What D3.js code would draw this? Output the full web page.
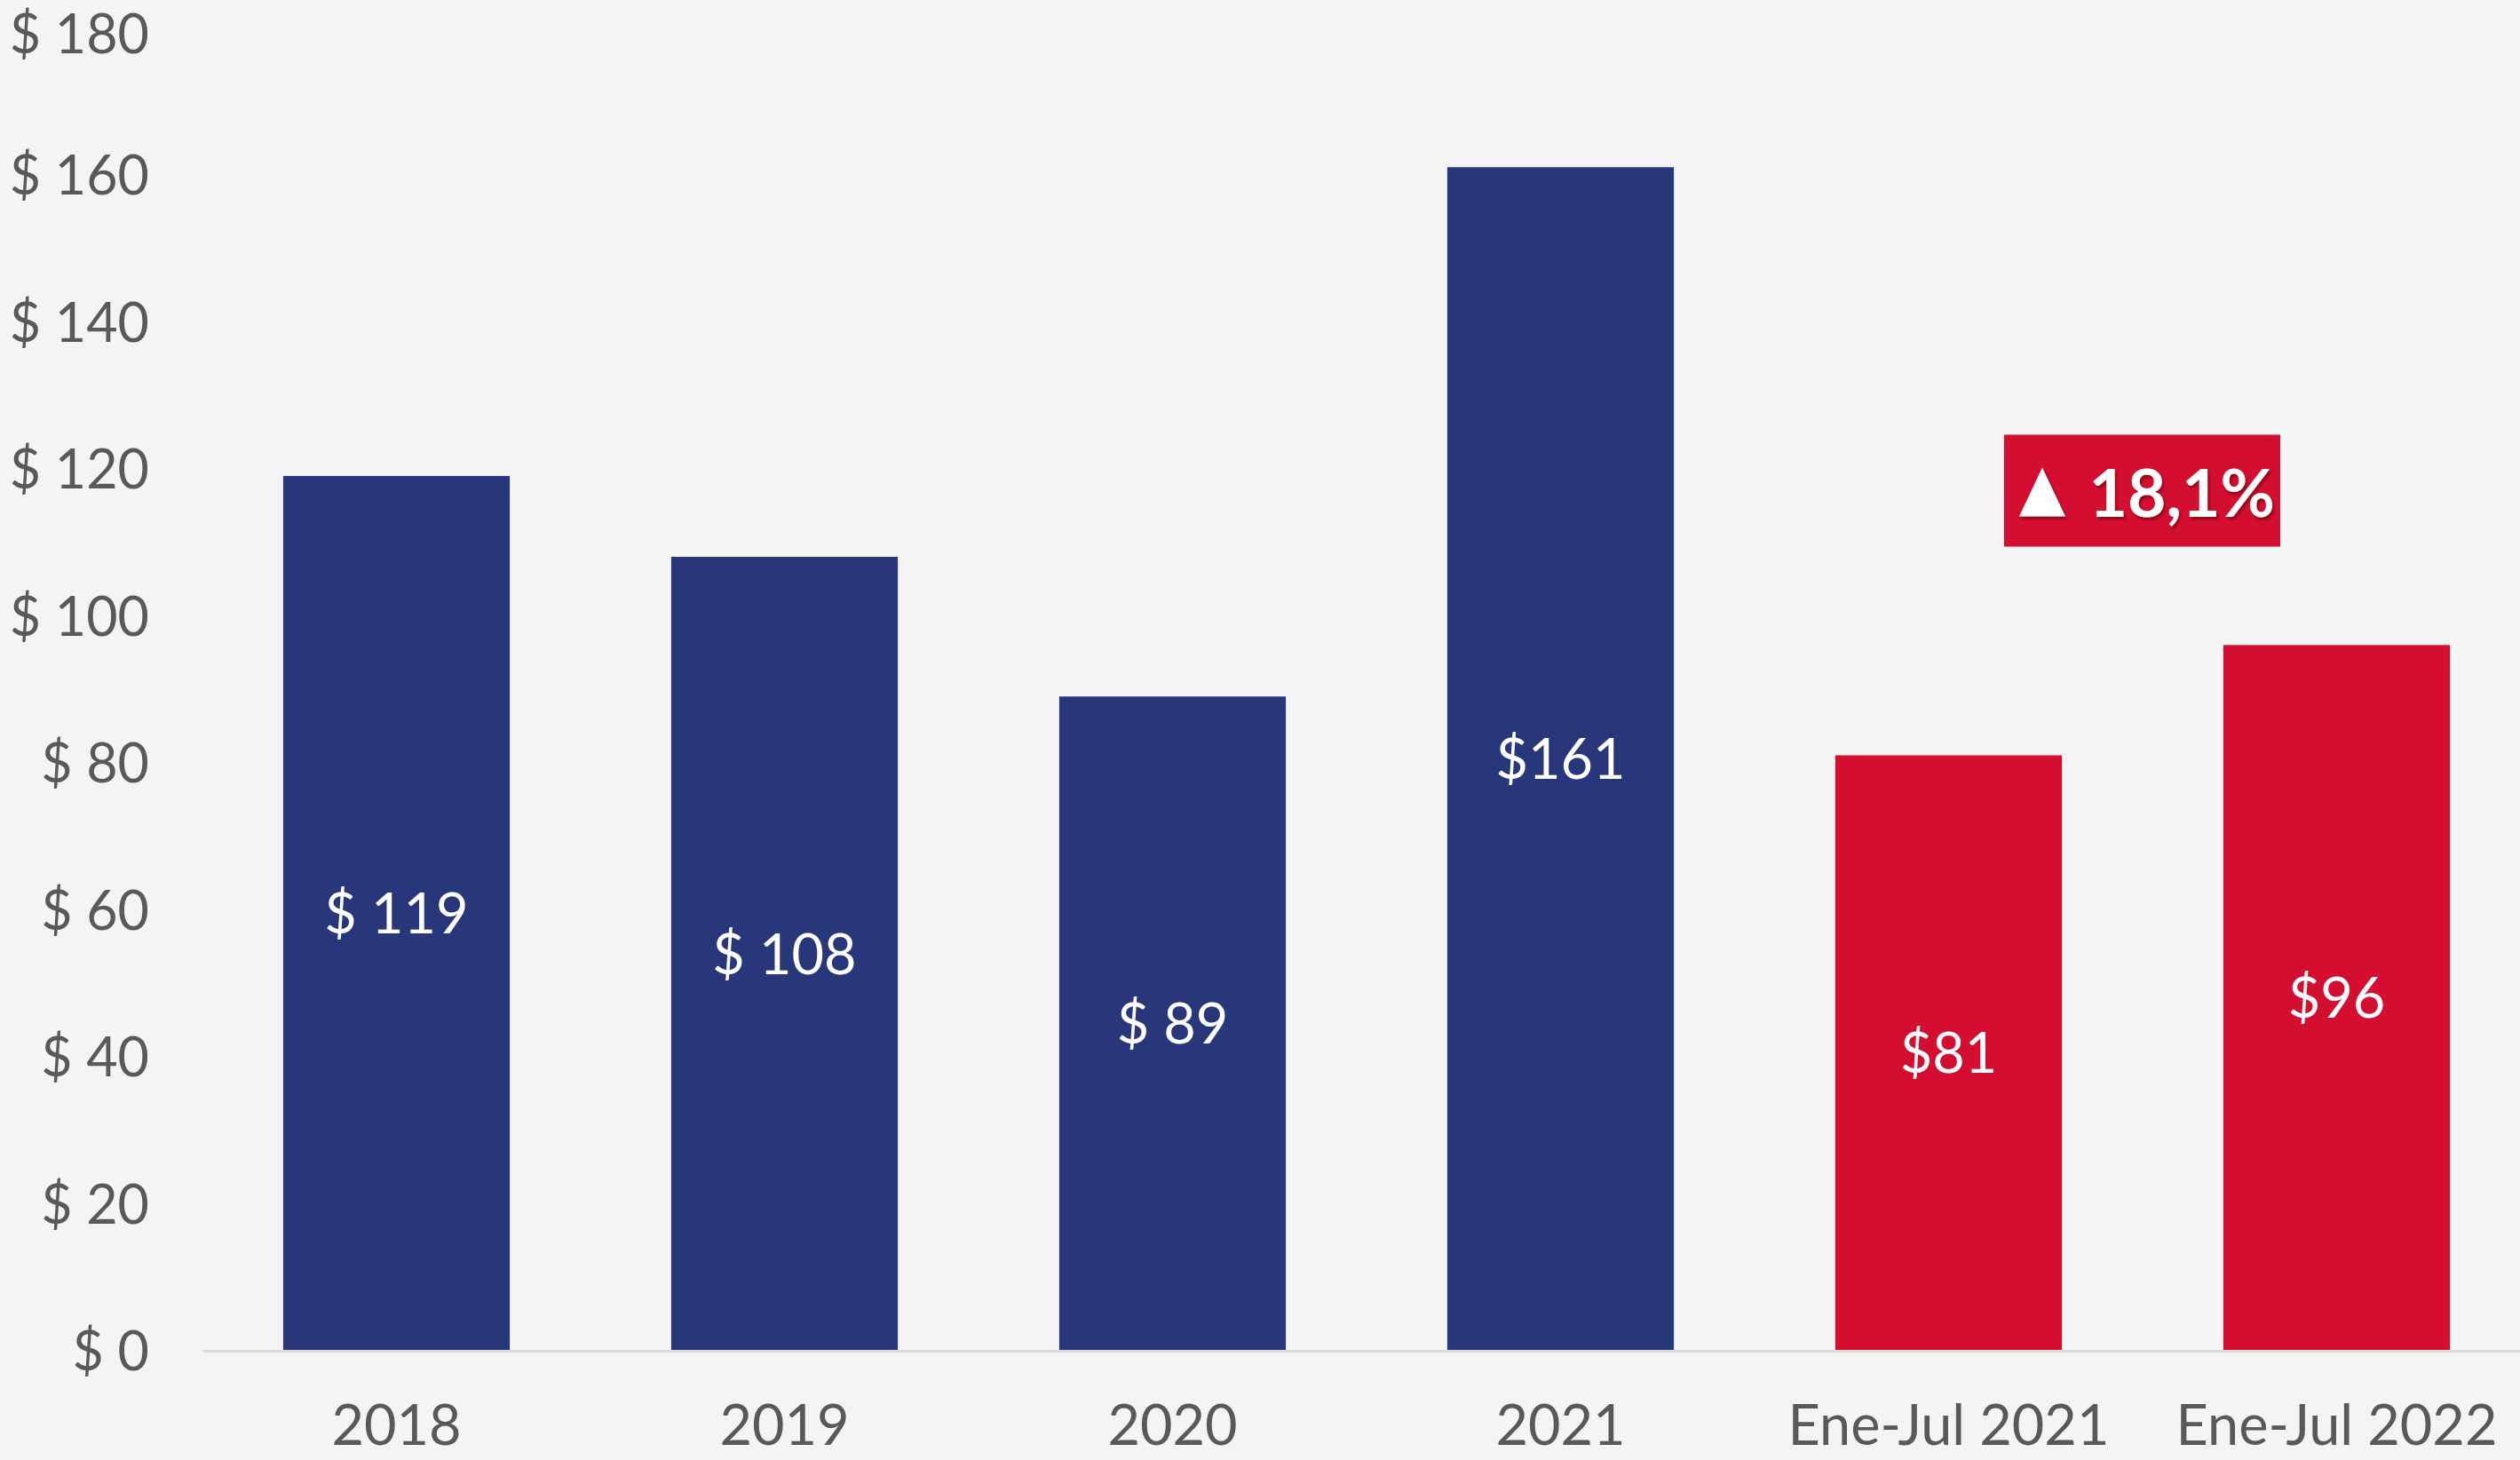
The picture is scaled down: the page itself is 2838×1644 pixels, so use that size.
<!DOCTYPE html>
<html>
<head>
<meta charset="utf-8">
<script src="https://cdn.jsdelivr.net/npm/d3@7"></script>
<style>
  html, body { margin: 0; padding: 0; background: #f4f4f4; }
  svg { display: block; }
</style>
</head>
<body>
<svg id="chart" width="2838" height="1644"></svg>
<script>
// values
let categories = ["2018", "2019", "2020", "2021", "Ene-Jul 2021", "Ene-Jul 2022"];
let values = [119, 108, 89, 161, 81, 96];
let valueLabels = ["$ 119", "$ 108", "$ 89", "$161", "$81", "$96"];
let yTicks = [0, 20, 40, 60, 80, 100, 120, 140, 160, 180];
let changeLabel = "18,1%";

let navy = "#283779";
let red = "#d40e30";
let grey = "#595959";
let font = "Lato, 'Open Sans', sans-serif";

let svg = d3.select("#chart");

let x = d3.scaleBand()
  .domain(categories)
  .range([228, 2850])
  .paddingInner(0.416)
  .paddingOuter(0.208);

let y = d3.scaleLinear()
  .domain([0, 180])
  .range([1521, 31]);

// y axis labels only
let yaxis = svg.append("g")
  .attr("transform", "translate(168,0)")
  .call(d3.axisLeft(y).tickValues(yTicks).tickSize(0).tickPadding(0).tickFormat(d => "$ " + d));
yaxis.select(".domain").remove();
yaxis.selectAll("text")
  .attr("fill", grey)
  .attr("font-family", font)
  .attr("font-size", 61)
  .attr("dy", "0.36em");

// keep the top label inside the page
yaxis.selectAll("text").each(function() {
  let b = this.getBBox();
  let t = d3.select(this.parentNode).attr("transform");
  let ty = +t.match(/,\s*([-\d.]+)/)[1];
  if (ty + b.y < 0) d3.select(this).attr("y", -(ty + b.y));
});

// bars
svg.append("g").selectAll("rect")
  .data(values)
  .join("rect")
  .attr("x", (d, i) => x(categories[i]))
  .attr("y", d => y(d))
  .attr("width", x.bandwidth())
  .attr("height", d => y(0) - y(d))
  .attr("fill", (d, i) => i < 4 ? navy : red);

// x axis
let xaxis = svg.append("g")
  .attr("transform", "translate(0," + y(0) + ")")
  .call(d3.axisBottom(x).tickSize(0).tickSizeOuter(0));
xaxis.select(".domain")
  .attr("stroke", "#d9d9d9")
  .attr("stroke-width", 3);
xaxis.selectAll("text")
  .attr("fill", grey)
  .attr("font-family", font)
  .attr("font-size", 63)
  .attr("y", 106)
  .attr("dy", 0);

// labels inside the bars
svg.append("g").selectAll("text")
  .data(values)
  .join("text")
  .attr("x", (d, i) => x(categories[i]) + x.bandwidth() / 2)
  .attr("y", d => (y(d) + y(0)) / 2)
  .attr("dy", "0.36em")
  .attr("text-anchor", "middle")
  .attr("fill", "#fff")
  .attr("font-family", font)
  .attr("font-size", 63)
  .text((d, i) => valueLabels[i]);

// change badge between the two Ene-Jul bars
let cx = (x(categories[4]) + x(categories[5])) / 2 + x.bandwidth() / 2;
let cy = y(117);
let badge = svg.append("g").attr("transform", "translate(" + cx + "," + cy + ")");

let defs = svg.append("defs");
defs.append("filter").attr("id", "shadow")
  .append("feDropShadow")
  .attr("dx", 2).attr("dy", 3).attr("stdDeviation", 1.5)
  .attr("flood-color", "#600").attr("flood-opacity", 0.6);

badge.append("rect")
  .attr("x", -156).attr("y", -63)
  .attr("width", 311).attr("height", 126)
  .attr("fill", red);

badge.append("path")
  .attr("d", "M-139,29 L-113,-26 L-87,29 Z")
  .attr("fill", "#fff")
  .attr("filter", "url(#shadow)");

badge.append("text")
  .attr("x", 149)
  .attr("y", 29)
  .attr("text-anchor", "end")
  .attr("fill", "#fff")
  .attr("font-family", font)
  .attr("font-weight", 700)
  .attr("font-size", 75)
  .attr("filter", "url(#shadow)")
  .text(changeLabel);
</script>
</body>
</html>
